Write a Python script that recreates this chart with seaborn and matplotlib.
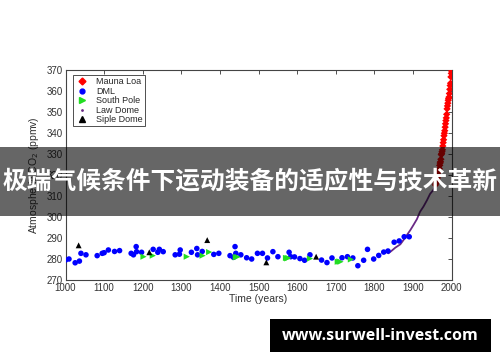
import matplotlib
matplotlib.use("Agg")
import matplotlib.pyplot as plt
from matplotlib.patches import Rectangle
from matplotlib.lines import Line2D
import seaborn as sns
import pandas as pd

# ---- data ----
dml_year = [1000, 1009, 1025, 1036, 1040, 1053, 1082, 1095, 1100, 1111, 1127, 1140,
            1170, 1176, 1183, 1184, 1197, 1227, 1239, 1243, 1253, 1284, 1295, 1297,
            1326, 1340, 1342, 1354, 1384, 1397, 1426, 1435, 1439, 1441, 1454, 1469,
            1482, 1497, 1510, 1523, 1537, 1550, 1579, 1583, 1593, 1607, 1619, 1633,
            1663, 1677, 1690, 1716, 1730, 1744, 1757, 1772, 1782, 1798, 1811, 1824,
            1835, 1851, 1864, 1877, 1890]
dml_ppm = [279.5, 280.0, 278.2, 279.0, 282.7, 282.0, 281.6, 282.7, 283.0, 284.3, 283.6, 284.0,
           282.7, 282.0, 285.9, 283.5, 283.2, 284.6, 283.2, 284.6, 283.5, 282.0, 282.3, 284.3,
           283.2, 285.0, 282.0, 283.6, 282.2, 282.7, 281.6, 280.8, 285.9, 282.7, 282.0, 280.6,
           280.0, 282.7, 282.7, 280.5, 283.5, 281.1, 283.2, 281.1, 281.0, 280.2, 279.4, 282.0,
           279.5, 278.3, 280.5, 280.6, 281.1, 280.5, 276.8, 279.4, 284.6, 280.0, 281.7, 283.3,
           283.8, 288.0, 288.6, 290.6, 290.6]

sp_year = [1202, 1226, 1314, 1355, 1372, 1441, 1445, 1571, 1574, 1577, 1633, 1705, 1709, 1712, 1739]
sp_ppm = [281.1, 281.6, 281.1, 281.6, 283.3, 280.8, 281.0, 280.5, 280.3, 280.5, 280.2, 278.7, 278.8, 278.7, 279.8]

siple_year = [1034, 1217, 1367, 1520, 1649]
siple_ppm = [286.5, 283.2, 289.0, 278.4, 281.1]

law_year = [1832, 1836, 1845, 1854, 1867, 1875, 1884, 1893, 1901, 1910, 1918, 1927,
            1936, 1944, 1953, 1962, 1970, 1978]
law_ppm = [284.0, 282.7, 284.0, 285.4, 287.0, 289.0, 291.4, 293.8, 296.2, 299.0, 302.5, 305.0,
           308.0, 311.0, 313.0, 318.0, 325.0, 333.0]

ml_year = list(range(1958, 2001))
ml_ppm = [315.3, 316.0, 316.9, 317.6, 318.4, 319.0, 319.6, 320.0, 321.4, 322.2, 323.0,
          324.6, 325.7, 326.3, 327.5, 329.7, 330.2, 331.1, 332.0, 333.8, 335.4, 336.8,
          338.7, 339.9, 341.1, 342.8, 344.4, 345.9, 347.2, 348.9, 351.5, 352.9, 354.2,
          355.6, 356.4, 357.1, 358.8, 360.8, 362.6, 363.7, 366.7, 368.4, 369.5]

series_labels = ["Mauna Loa", "DML", "South Pole", "Law Dome", "Siple Dome"]
x_ticks = list(range(1000, 2001, 100))
y_ticks = list(range(270, 371, 10))
banner = "极端气候条件下运动装备的适应性与技术革新"
watermark = "www.surwell-invest.com"

# ---- figure ----
sns.set_style("white")
plt.rcParams['font.family'] = ['Liberation Sans', 'DejaVu Sans']

fig = plt.figure(figsize=(5.0, 3.62), dpi=100)
ax = fig.add_axes([0.131, 0.2265, 0.7724, 0.5801])

sns.lineplot(x=law_year, y=law_ppm, ax=ax, color="#6a2a86", linewidth=1.3, zorder=2)
sns.scatterplot(x=dml_year, y=dml_ppm, ax=ax, color="#0000ff", s=16, marker="o",
                edgecolor="none", zorder=3)
sns.scatterplot(x=sp_year, y=sp_ppm, ax=ax, color="#22dd22", s=20, marker=">",
                edgecolor="none", zorder=4)
sns.scatterplot(x=siple_year, y=siple_ppm, ax=ax, color="black", s=18, marker="^",
                edgecolor="none", zorder=4)
sns.scatterplot(x=ml_year, y=ml_ppm, ax=ax, color="#ff0000", s=14, marker="D",
                edgecolor="none", zorder=5)

ax.set_xlim(1000, 2000)
ax.set_ylim(270, 370)
ax.set_xticks(x_ticks)
ax.set_yticks(y_ticks)
ax.tick_params(direction="in", length=3, width=0.6, top=True, right=True,
               labelsize=7, colors="#333333", pad=2)
for sp in ax.spines.values():
    sp.set_visible(True)
    sp.set_color("#444444")
    sp.set_linewidth(0.8)
ax.set_xlabel("Time (years)", fontsize=7.5, color="#333333", labelpad=1)
ax.set_ylabel("Atmospheric CO$_2$ (ppmv)", fontsize=7.5, color="#333333", labelpad=4)

handles = [
    Line2D([], [], linestyle="none", marker="D", color="#ff0000", markersize=3.5),
    Line2D([], [], linestyle="none", marker="o", color="#0000ff", markersize=3.5),
    Line2D([], [], linestyle="none", marker=">", color="#22dd22", markersize=4),
    Line2D([], [], linestyle="none", marker=".", color="#6a2a86", markersize=2),
    Line2D([], [], linestyle="none", marker="^", color="black", markersize=4),
]
leg = ax.legend(handles, series_labels, loc="upper left", fontsize=6.5,
                frameon=True, fancybox=False, framealpha=1, edgecolor="#333333",
                borderpad=0.25, labelspacing=0.05, handletextpad=0.8, handlelength=1.5,
                borderaxespad=0, bbox_to_anchor=(0.02, 0.976))
leg.get_frame().set_linewidth(0.6)

# banner overlay
fig.patches.append(Rectangle((0, (362 - 216) / 362), 1, 69 / 362, transform=fig.transFigure,
                             facecolor="black", alpha=0.6, edgecolor="none", zorder=10))
fig.text(0.5, (362 - 181.5) / 362, banner, ha="center", va="center", color="white",
         fontsize=17.8, fontweight="bold", family=["Noto Sans CJK SC", "DejaVu Sans"], zorder=11)

# watermark box
fig.patches.append(Rectangle((270 / 500, (362 - 352) / 362), 221 / 500, 33 / 362,
                             transform=fig.transFigure, facecolor="black",
                             edgecolor="none", zorder=10))
fig.text(380.5 / 500, (362 - 335.5) / 362, watermark, ha="center", va="center",
         color="white", fontsize=11.5, fontweight="bold", family=["Open Sans", "DejaVu Sans"],
         zorder=11)

fig.savefig("out.png", dpi=100)
